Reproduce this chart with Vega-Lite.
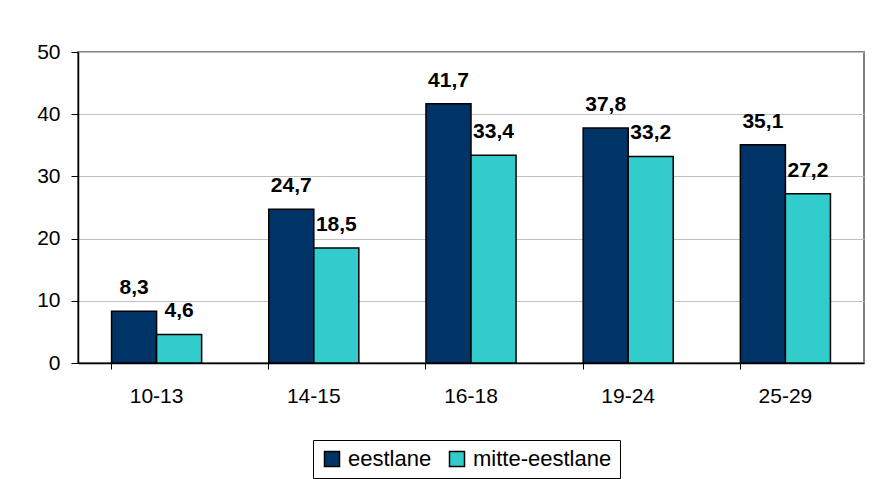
{
  "$schema": "https://vega.github.io/schema/vega-lite/v6.json",
  "autosize": {"type": "none"},
  "width": 786,
  "height": 311,
  "padding": {"left": 78, "top": 52, "right": 13, "bottom": 116},
  "background": "white",
  "config": {
    "font": "Liberation Sans",
    "locale": {"number": {"decimal": ",", "thousands": " ", "grouping": [3], "currency": ["", ""]}},
    "view": {"stroke": "#808080", "strokeWidth": 2}
  },
  "data": {
    "values": [
      {"age": "10-13", "group": "eestlane", "value": 8.3},
      {"age": "10-13", "group": "mitte-eestlane", "value": 4.6},
      {"age": "14-15", "group": "eestlane", "value": 24.7},
      {"age": "14-15", "group": "mitte-eestlane", "value": 18.5},
      {"age": "16-18", "group": "eestlane", "value": 41.7},
      {"age": "16-18", "group": "mitte-eestlane", "value": 33.4},
      {"age": "19-24", "group": "eestlane", "value": 37.8},
      {"age": "19-24", "group": "mitte-eestlane", "value": 33.2},
      {"age": "25-29", "group": "eestlane", "value": 35.1},
      {"age": "25-29", "group": "mitte-eestlane", "value": 27.2}
    ]
  },
  "encoding": {
    "x": {
      "field": "age", "type": "nominal", "sort": null, "title": null,
      "scale": {"paddingInner": 0.427, "paddingOuter": 0.2135},
      "axis": {
        "labelAngle": 0, "labelFontSize": 21, "labelColor": "#000", "labelPadding": 16,
        "bandPosition": 0, "tickSize": 6, "tickColor": "#000", "domainColor": "#000",
        "domainWidth": 1.5, "grid": false
      }
    },
    "xOffset": {"field": "group", "type": "nominal", "sort": ["eestlane", "mitte-eestlane"]},
    "y": {
      "field": "value", "type": "quantitative", "title": null,
      "scale": {"domain": [0, 50], "nice": false},
      "axis": {
        "values": [0, 10, 20, 30, 40, 50], "format": "d",
        "labelFontSize": 21, "labelColor": "#000", "labelPadding": 11,
        "tickSize": 7, "tickColor": "#000", "domainColor": "#000", "domainWidth": 1.5,
        "gridColor": "#c0c0c0", "gridWidth": 1
      }
    }
  },
  "layer": [
    {
      "mark": {"type": "bar", "stroke": "#000", "strokeWidth": 1.5},
      "encoding": {
        "color": {
          "field": "group", "type": "nominal", "title": null,
          "scale": {"domain": ["eestlane", "mitte-eestlane"], "range": ["#003366", "#33CCCC"]},
          "legend": {
            "orient": "none", "legendX": 235, "legendY": 388, "direction": "horizontal",
            "strokeColor": "#000", "padding": 8, "fillColor": "white",
            "symbolType": "square", "symbolSize": 225, "symbolStrokeColor": "#000",
            "symbolStrokeWidth": 1.5, "symbolOpacity": 1,
            "labelFontSize": 22, "labelColor": "#000", "labelOffset": 5, "columnPadding": 14
          }
        }
      }
    },
    {
      "mark": {"type": "text", "fontWeight": "bold", "fontSize": 21, "dy": -17, "baseline": "alphabetic", "color": "#000"},
      "encoding": {
        "text": {"field": "value", "type": "quantitative", "format": ".1f"}
      }
    }
  ]
}
